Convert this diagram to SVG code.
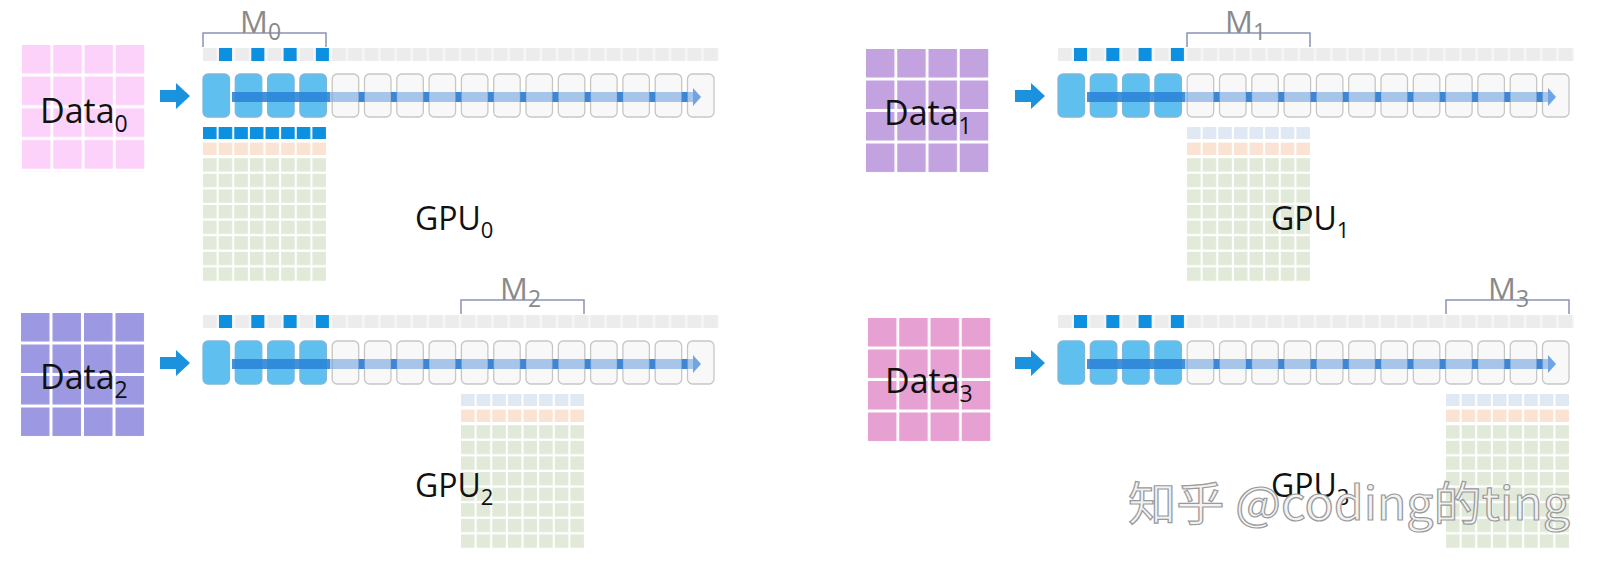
<svg xmlns="http://www.w3.org/2000/svg" xmlns:xlink="http://www.w3.org/1999/xlink" width="1611" height="575" viewBox="0 0 1611 575">
<style>
.lbl{font-family:"Open Sans","Noto Sans",sans-serif;fill:#111}
.m{font-family:"Open Sans","Noto Sans",sans-serif;fill:#8a8a8a;font-size:31px}
.br{fill:none;stroke:#8a93b5;stroke-width:1.5}
.bx{fill:#f8f8f8;stroke:#c6c6c6;stroke-width:1.3}
.bb{fill:#5fc0f0;stroke:#7fb6d8;stroke-width:1.3}
.sq{fill:#0e90e0}
.gap{fill:#3d86d6}
.wm{font-family:"Noto Sans CJK SC","Noto Sans",sans-serif;font-size:46px;fill:#f2f2f2;stroke:#9a9a9a;stroke-width:1.2}
</style>
<defs>
<pattern id="dg" patternUnits="objectBoundingBox" width="0.25" height="0.25">
<rect x="28.5" y="0" width="3" height="32" fill="#fff"/><rect x="0" y="28.5" width="32" height="3" fill="#fff"/>
</pattern>
<pattern id="gg" patternUnits="objectBoundingBox" width="0.125" height="0.1">
<rect x="13.6" y="0" width="2.2" height="16" fill="#fff"/><rect x="0" y="13.4" width="16" height="2.2" fill="#fff"/>
</pattern>
<pattern id="sp" patternUnits="userSpaceOnUse" x="0" y="0" width="16.15" height="13">
<rect x="0" y="0" width="14" height="13" fill="#ececec"/><rect x="14" y="0" width="2.15" height="13" fill="#f6f6f6"/>
</pattern>
<g id="lane">
<rect x="0" y="-26" width="516" height="13" fill="url(#sp)"/>
<g id="boxes">
<rect class="bb" x="0" y="0" width="26.5" height="43" rx="5" fill="#74c8f2"/>
<rect class="bb" x="32.3" y="0" width="26.5" height="43" rx="5"/>
<rect class="bb" x="64.6" y="0" width="26.5" height="43" rx="5"/>
<rect class="bb" x="96.9" y="0" width="26.5" height="43" rx="5"/>
<rect class="bx" x="129.2" y="0" width="26.5" height="43" rx="5"/>
<rect class="bx" x="161.5" y="0" width="26.5" height="43" rx="5"/>
<rect class="bx" x="193.8" y="0" width="26.5" height="43" rx="5"/>
<rect class="bx" x="226.1" y="0" width="26.5" height="43" rx="5"/>
<rect class="bx" x="258.4" y="0" width="26.5" height="43" rx="5"/>
<rect class="bx" x="290.7" y="0" width="26.5" height="43" rx="5"/>
<rect class="bx" x="323" y="0" width="26.5" height="43" rx="5"/>
<rect class="bx" x="355.3" y="0" width="26.5" height="43" rx="5"/>
<rect class="bx" x="387.6" y="0" width="26.5" height="43" rx="5"/>
<rect class="bx" x="419.9" y="0" width="26.5" height="43" rx="5"/>
<rect class="bx" x="452.2" y="0" width="26.5" height="43" rx="5"/>
<rect class="bx" x="484.5" y="0" width="26.5" height="43" rx="5"/>
</g>
<g id="squares">
<rect class="sq" x="16" y="-26" width="13" height="13"/>
<rect class="sq" x="48.3" y="-26" width="13" height="13"/>
<rect class="sq" x="80.6" y="-26" width="13" height="13"/>
<rect class="sq" x="112.9" y="-26" width="13" height="13"/>
</g>
<g id="flow">
<rect x="29" y="18" width="461" height="10" fill="#6fa3e0" opacity="0.6"/>
<rect x="29" y="18" width="98" height="10" fill="#1f7fd6" opacity="0.75"/>
<rect class="gap" x="155.7" y="18" width="5.8" height="10"/>
<rect class="gap" x="188" y="18" width="5.8" height="10"/>
<rect class="gap" x="220.3" y="18" width="5.8" height="10"/>
<rect class="gap" x="252.6" y="18" width="5.8" height="10"/>
<rect class="gap" x="284.9" y="18" width="5.8" height="10"/>
<rect class="gap" x="317.2" y="18" width="5.8" height="10"/>
<rect class="gap" x="349.5" y="18" width="5.8" height="10"/>
<rect class="gap" x="381.8" y="18" width="5.8" height="10"/>
<rect class="gap" x="414.1" y="18" width="5.8" height="10"/>
<rect class="gap" x="446.4" y="18" width="5.8" height="10"/>
<rect class="gap" x="478.7" y="18" width="5.8" height="10"/>
<polygon points="490,14 498,23 490,32" fill="#4d8fdc" opacity="0.8"/>
</g>
</g>
<path id="inarrow" d="M0,-6 H16 V-13 L30,0 L16,13 V6 H0 Z" fill="#1a92de"/>
</defs>

<g id="panel0">
<rect x="22" y="45" width="125" height="127" fill="#fcd2fb"/><rect x="22" y="45" width="125" height="127" fill="url(#dg)"/>
<text class="lbl" x="40" y="123" font-size="34">Data<tspan font-size="23" dy="9">0</tspan></text>
<use href="#inarrow" x="160" y="96"/>
<use href="#lane" x="203" y="74"/>
<path class="br" d="M203,47 V33 H326 V47"/>
<text class="m" x="240" y="33">M<tspan font-size="23" dy="7">0</tspan></text>
<rect x="203" y="127" width="125" height="12" fill="#0e90e0"/>
<rect x="203" y="142" width="125" height="13" fill="#fbe3d3"/>
<rect x="203" y="157" width="125" height="126" fill="#e1ead8"/>
<rect x="203" y="127" width="125" height="156" fill="url(#gg)"/>
<text class="lbl" x="415" y="230" font-size="32">GPU<tspan font-size="22" dy="8">0</tspan></text>
</g>

<g id="panel1">
<rect x="866" y="49" width="125" height="126" fill="#c3a2e0"/><rect x="866" y="49" width="125" height="126" fill="url(#dg)"/>
<text class="lbl" x="884" y="125" font-size="34">Data<tspan font-size="23" dy="9">1</tspan></text>
<use href="#inarrow" x="1015" y="96"/>
<use href="#lane" x="1058" y="74"/>
<path class="br" d="M1187,47 V33 H1310 V47"/>
<text class="m" x="1225" y="33">M<tspan font-size="23" dy="7">1</tspan></text>
<rect x="1187" y="127" width="125" height="12" fill="#dfe8f3"/>
<rect x="1187" y="142" width="125" height="13" fill="#fbe3d3"/>
<rect x="1187" y="157" width="125" height="126" fill="#e1ead8"/>
<rect x="1187" y="127" width="125" height="156" fill="url(#gg)"/>
<text class="lbl" x="1271" y="230" font-size="32">GPU<tspan font-size="22" dy="8">1</tspan></text>
</g>

<g id="panel2">
<rect x="21" y="313" width="126" height="126" fill="#9c98e2"/><rect x="21" y="313" width="126" height="126" fill="url(#dg)"/>
<text class="lbl" x="40" y="389" font-size="34">Data<tspan font-size="23" dy="9">2</tspan></text>
<use href="#inarrow" x="160" y="363"/>
<use href="#lane" x="203" y="341"/>
<path class="br" d="M461,314 V300 H584 V314"/>
<text class="m" x="500" y="300">M<tspan font-size="23" dy="7">2</tspan></text>
<rect x="461" y="394" width="125" height="12" fill="#dfe8f3"/>
<rect x="461" y="409" width="125" height="13" fill="#fbe3d3"/>
<rect x="461" y="424" width="125" height="126" fill="#e1ead8"/>
<rect x="461" y="394" width="125" height="156" fill="url(#gg)"/>
<text class="lbl" x="415" y="497" font-size="32">GPU<tspan font-size="22" dy="8">2</tspan></text>
</g>

<g id="panel3">
<rect x="868" y="318" width="125" height="126" fill="#e6a0d2"/><rect x="868" y="318" width="125" height="126" fill="url(#dg)"/>
<text class="lbl" x="885" y="393" font-size="34">Data<tspan font-size="23" dy="9">3</tspan></text>
<use href="#inarrow" x="1015" y="363"/>
<use href="#lane" x="1058" y="341"/>
<path class="br" d="M1446,314 V300 H1569 V314"/>
<text class="m" x="1488" y="300">M<tspan font-size="23" dy="7">3</tspan></text>
<rect x="1446" y="394" width="125" height="12" fill="#dfe8f3"/>
<rect x="1446" y="409" width="125" height="13" fill="#fbe3d3"/>
<rect x="1446" y="424" width="125" height="126" fill="#e1ead8"/>
<rect x="1446" y="394" width="125" height="156" fill="url(#gg)"/>
<text class="lbl" x="1271" y="497" font-size="32">GPU<tspan font-size="22" dy="8">3</tspan></text>
</g>

<text class="wm" x="1128" y="520" textLength="442" lengthAdjust="spacingAndGlyphs">知乎 @coding的ting</text>
</svg>
